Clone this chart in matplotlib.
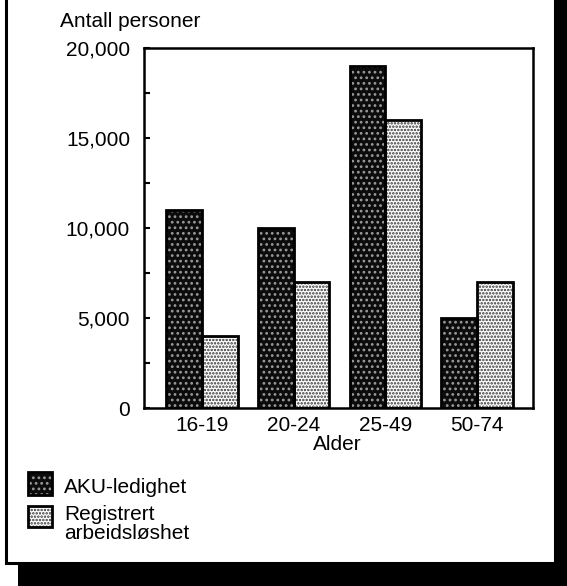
import matplotlib
matplotlib.use('Agg')
import matplotlib.pyplot as plt
from matplotlib.patches import Rectangle
import numpy as np

groups = ['16-19', '20-24', '25-49', '50-74']
aku = [11000, 10000, 19000, 5000]
registrert = [4000, 7000, 16000, 7000]
labels = ['AKU-ledighet', 'Registrert', 'arbeidsløshet']

plt.rcParams['font.family'] = ['Liberation Sans', 'DejaVu Sans']
plt.rcParams['hatch.linewidth'] = 1.2

W, H = 567, 586
fig = plt.figure(figsize=(W / 100, H / 100), dpi=100)

def fx(px):
    return px / W

def fy(py):
    return 1 - py / H

# shadow frame
fig.add_artist(Rectangle((fx(18), -0.1), 1.2, (586 - 565) / H + 0.1, transform=fig.transFigure,
                         facecolor='black', edgecolor='none', zorder=0))
fig.add_artist(Rectangle((fx(555), -0.1), 1.2, 1.2, transform=fig.transFigure,
                         facecolor='black', edgecolor='none', zorder=0))
fig.add_artist(Rectangle((fx(6), fy(563)), (555 - 6) / W, 563 / H + 0.1, transform=fig.transFigure,
                         facecolor='white', edgecolor='black', linewidth=2.2, zorder=0.5))

ax = fig.add_axes([fx(144), fy(408), (533 - 144) / W, (408 - 48) / H])
ax.set_zorder(2)
x = np.arange(len(groups))
w = 0.39

dark = dict(color='#0c0c0c', edgecolor='#9a9a9a', hatch='...', linewidth=0)
light = dict(color='white', edgecolor='#333333', hatch='.....', linewidth=0)

# hatched fills
ax.bar(x - w / 2, aku, w, **dark)
ax.bar(x + w / 2, registrert, w, **light)
# outlines
ax.bar(x - w / 2, aku, w, fill=False, edgecolor='black', linewidth=2)
ax.bar(x + w / 2, registrert, w, fill=False, edgecolor='black', linewidth=2)

ax.set_xlim(-0.633, 3.61)
ax.set_ylim(0, 20000)
ax.set_yticks(np.arange(0, 20001, 5000))
ax.set_yticks(np.arange(0, 20001, 2500), minor=True)
ax.set_yticklabels(['0', '5,000', '10,000', '15,000', '20,000'])
ax.tick_params(axis='y', which='both', direction='in', length=4, width=1.5, labelsize=15, pad=10)
ax.set_xticks(x)
ax.set_xticklabels(groups)
ax.tick_params(axis='x', length=0, labelsize=15, pad=6)
for s in ax.spines.values():
    s.set_linewidth(1.8)

fig.text(fx(60), fy(27), 'Antall personer', fontsize=15, va='baseline', ha='left')
fig.text(fx(337), fy(450), 'Alder', fontsize=15, va='baseline', ha='center')

# legend
for (top, bottom), style in zip([(472, 495), (506, 527)], [dark, light]):
    sw = dict(style)
    sw['linewidth'] = 0
    fig.add_artist(Rectangle((fx(28), fy(bottom)), 24 / W, (bottom - top) / H,
                             transform=fig.transFigure, facecolor=sw.pop('color'), **sw))
    fig.add_artist(Rectangle((fx(28), fy(bottom)), 24 / W, (bottom - top) / H,
                             transform=fig.transFigure, fill=False, edgecolor='black', linewidth=2))
for text, base in zip(labels, [493, 520, 539]):
    fig.text(fx(64), fy(base), text, fontsize=15, va='baseline', ha='left')

fig.savefig('out.png', dpi=100)
